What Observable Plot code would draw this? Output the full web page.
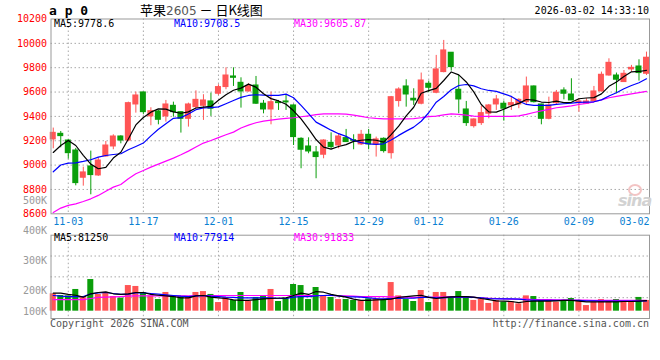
<!DOCTYPE html>
<html><head><meta charset="utf-8">
<script src="https://cdn.jsdelivr.net/npm/d3@7"></script>
<script src="https://cdn.jsdelivr.net/npm/@observablehq/plot@0.6"></script>
<style>
body{margin:0;background:#fff;}
#wrap{position:relative;width:660px;height:360px;overflow:hidden;background:#fff;font-family:"DejaVu Sans Mono",monospace;}
#wrap svg{position:absolute;left:0;top:0;}
.t{position:absolute;white-space:nowrap;font-size:10px;line-height:12px;font-family:"DejaVu Sans Mono",monospace;}
</style></head><body><div id="wrap">
<div class="t" style="left:49px;top:3px;font-size:13px;line-height:16px;font-weight:bold;">a p 0</div>
<div class="t" style="left:140px;top:1px;font-size:13px;line-height:18px;font-family:'Noto Sans CJK SC',sans-serif;">苹果<span style="color:#555;font-family:'DejaVu Sans';font-size:12px;">2605</span> － 日K线图</div>
<div class="t" style="right:11px;top:5px;">2026-03-02 14:33:10</div>
<div class="t" style="left:54px;top:18px;color:#000;">MA5:9778.6</div>
<div class="t" style="left:174px;top:18px;color:#0000ff;">MA10:9708.5</div>
<div class="t" style="left:294px;top:18px;color:#ff00ff;">MA30:9605.87</div>
<div class="t" style="left:54px;top:232px;color:#000;">MA5:81250</div>
<div class="t" style="left:174px;top:232px;color:#0000ff;">MA10:77914</div>
<div class="t" style="left:294px;top:232px;color:#ff00ff;">MA30:91833</div>
<div class="t" style="left:50px;top:318px;color:#555;">Copyright 2026 SINA.COM</div>
<div class="t" style="right:11px;top:318px;color:#555;">http://finance.sina.com.cn</div>
<div class="t" style="left:628px;top:184px;width:10px;height:8px;border:2px solid #f3c4c4;border-radius:50%;"></div>
<div class="t" style="left:618px;top:193px;font-size:16px;line-height:16px;font-style:italic;font-weight:bold;font-family:'DejaVu Sans',sans-serif;color:#d2d2d2;letter-spacing:-1px;">sina</div>
</div>
<script>
const dates = ["10-30","10-31",
"11-03","11-04","11-05","11-06","11-07","11-10","11-11","11-12","11-13","11-14",
"11-17","11-18","11-19","11-20","11-21","11-24","11-25","11-26","11-27","11-28",
"12-01","12-02","12-03","12-04","12-05","12-08","12-09","12-10","12-11","12-12",
"12-15","12-16","12-17","12-18","12-19","12-22","12-23","12-24","12-25","12-26",
"12-29","12-30","12-31",
"01-05","01-06","01-07","01-08","01-09","01-12","01-13","01-14","01-15","01-16",
"01-19","01-20","01-21","01-22","01-23","01-26","01-27","01-28","01-29","01-30",
"02-02","02-03","02-04","02-05","02-06","02-09","02-10","02-11","02-12","02-13",
"02-24","02-25","02-26","02-27","03-02"];
const open = [9211,9257,9202,9120,8896,8989,8915,9071,9153,9235,
9202,9498,9597,9400,9441,9400,9487,9435,9380,9476,
9487,9523,9586,9641,9728,9676,9605,9654,9504,9457,
9517,9523,9490,9216,9153,9104,9085,9183,9161,9222,
9205,9170,9249,9170,9216,9098,9526,9646,9545,9504,
9668,9594,9764,9923,9619,9457,9320,9345,9422,9498,
9504,9490,9498,9517,9646,9498,9380,9509,9613,9580,
9509,9504,9523,9605,9736,9736,9682,9786,9810,9750];
const high = [9304,9276,9208,9137,8983,9115,9060,9194,9249,9241,
9517,9600,9597,9471,9449,9531,9517,9440,9509,9610,
9578,9591,9660,9799,9799,9717,9668,9728,9531,9600,
9531,9572,9495,9224,9224,9153,9208,9265,9257,9293,
9249,9285,9293,9230,9224,9564,9635,9701,9627,9756,
9690,9901,10024,9923,9736,9523,9380,9482,9498,9572,
9526,9558,9545,9723,9650,9500,9558,9613,9635,9709,
9545,9545,9646,9764,9873,9756,9777,9819,9865,9928];
const low = [9134,9142,9049,8830,8827,8756,8907,9066,9126,9175,
9192,9427,9416,9323,9331,9353,9394,9263,9312,9463,
9367,9400,9572,9619,9646,9468,9600,9498,9421,9331,
9449,9449,9161,8970,9093,8888,9052,9129,9134,9189,
9126,9161,9126,9066,9099,9049,9476,9476,9490,9495,
9594,9586,9758,9772,9422,9318,9304,9326,9380,9449,
9361,9449,9463,9498,9510,9331,9372,9498,9536,9531,
9435,9498,9517,9600,9730,9586,9680,9764,9690,9736];
const close = [9265,9238,9098,8852,8940,8918,9038,9161,9235,9202,
9509,9572,9435,9443,9372,9498,9435,9380,9498,9536,
9531,9463,9641,9736,9717,9605,9649,9504,9457,9517,
9509,9515,9230,9126,9112,9066,9202,9148,9235,9189,
9200,9249,9170,9211,9115,9558,9621,9580,9531,9695,
9635,9786,9942,9805,9539,9345,9375,9427,9490,9539,
9463,9509,9536,9646,9517,9380,9490,9594,9586,9531,
9523,9523,9605,9742,9840,9701,9750,9799,9756,9882];
const ma5 = [9104,9161,9202,9161,9080,9008,8970,8982,9058,9105,
9215,9330,9391,9435,9462,9460,9437,9426,9437,9469,
9476,9482,9532,9578,9615,9632,9665,9640,9586,9546,
9527,9500,9446,9379,9298,9210,9147,9131,9153,9168,
9195,9204,9209,9204,9189,9250,9320,9405,9475,9590,
9612,9630,9695,9765,9741,9683,9601,9498,9437,9435,
9459,9486,9507,9539,9534,9518,9514,9525,9513,9516,
9545,9551,9554,9585,9647,9682,9728,9766,9769,9778.6];
const ma10 = [8945,9001,9016,9018,9030,9044,9066,9079,9087,9093,
9126,9153,9181,9240,9295,9340,9384,9390,9420,9455,
9470,9472,9478,9504,9531,9556,9572,9578,9574,9572,
9573,9583,9553,9490,9422,9353,9320,9287,9258,9236,
9203,9184,9175,9170,9175,9206,9244,9279,9312,9360,
9430,9517,9564,9619,9654,9662,9651,9627,9613,9605,
9585,9564,9526,9498,9490,9490,9490,9498,9504,9509,
9515,9517,9520,9536,9567,9594,9627,9654,9676,9708.5];
const ma30 = [8610,8647,8669,8682,8701,8723,8751,8786,8819,8841,
8888,8929,8956,8983,9008,9033,9057,9085,9115,9148,
9181,9202,9226,9249,9271,9305,9328,9348,9361,9370,
9378,9383,9389,9397,9405,9414,9420,9421,9421,9419,
9411,9400,9389,9383,9380,9380,9380,9380,9381,9389,
9398,9402,9413,9421,9416,9411,9402,9400,9400,9400,
9400,9400,9405,9416,9432,9446,9457,9471,9479,9487,
9498,9506,9520,9536,9553,9564,9575,9585,9595,9605.87];
// volume, thousands of lots
const vol = [133,120,117,166,112,242,128,143,112,100,
196,189,140,117,89,143,112,112,112,143,
150,128,66,105,82,143,74,105,112,166,
74,100,204,196,89,181,117,105,89,89,
82,82,94,94,82,219,117,89,74,158,
66,143,143,107,150,112,82,89,59,82,
69,74,56,117,112,89,89,69,82,97,
82,43,69,89,82,89,69,74,105,82];
const vma5 = [138,138,128,122,107,133,143,148,133,128,
133,143,143,128,122,117,112,102,102,117,
120,107,102,97,87,82,82,89,94,97,
99,102,120,138,128,150,145,128,117,107,
92,82,82,87,89,92,105,112,117,122,
105,97,105,110,112,112,107,97,89,79,
77,74,66,74,77,77,77,79,82,82,
77,71,71,71,71,71,74,74,77,81];
const vma10 = [120,115,112,112,112,133,140,143,135,128,
130,140,140,135,130,125,120,115,112,117,
120,115,112,107,105,102,102,102,102,102,
99,97,107,112,112,117,120,122,117,112,
110,107,102,97,94,97,97,99,99,105,
107,102,102,107,107,107,105,102,97,94,
94,94,92,87,84,82,82,82,82,82,
82,79,79,77,77,77,77,77,77,78];
const vma30 = [89,89,89,89,89,97,105,107,110,112,
115,117,117,117,117,117,117,117,117,117,
117,120,120,120,120,120,120,120,120,120,
120,120,120,120,120,120,120,120,117,117,
115,112,112,112,112,110,107,107,105,105,
105,107,110,110,107,107,105,102,99,97,
94,92,92,92,89,89,89,87,87,84,
84,84,82,82,82,82,82,82,82,82];
const priceTicks = [8600,8800,9000,9200,9400,9600,9800,10000,10200];
const volTicks = [100,200,300,400,500];
const dateTicks = ["11-03","11-17","12-01","12-15","12-29","01-12","01-26","02-09","03-02"];

const W = 660, H = 360;
const RED = "#ff5555", GREEN = "#0a9e0a", GRID = "#a8a8a8";
const rows = dates.map((d, i) => ({i, d, o: open[i], h: high[i], l: low[i], c: close[i],
  v: vol[i], m5: ma5[i], m10: ma10[i], m30: ma30[i], vm5: vma5[i], vm10: vma10[i], vm30: vma30[i],
  col: close[i] >= open[i] ? RED : GREEN}));
const tickIdx = dateTicks.map(t => dates.indexOf(t));
const gridIdx = tickIdx.slice(0, -1);
const lastIdx = tickIdx[tickIdx.length - 1];
const xDomain = [-0.3, 79.4];
const font = {fontFamily: "DejaVu Sans Mono", fontSize: "10px", background: "transparent"};
const HW = 0.4;

const main = Plot.plot({
  width: W, height: H, marginLeft: 50.5, marginRight: 11, marginTop: 18.5, marginBottom: H - 213.3,
  style: font,
  x: {domain: xDomain, axis: null, label: null},
  y: {domain: [8600, 10200], axis: null, label: null},
  color: {type: "identity"},
  marks: [
    Plot.ruleY(priceTicks.slice(1, -1), {stroke: GRID, strokeDasharray: "1.5,2.5"}),
    Plot.ruleX(gridIdx, {x: d => d, stroke: GRID, strokeDasharray: "1.5,2.5"}),
    Plot.ruleX(rows, {x: "i", y1: "l", y2: "h", stroke: "col"}),
    Plot.rect(rows, {x1: d => d.i - HW, x2: d => d.i + HW, y1: d => Math.min(d.o, d.c), y2: d => Math.max(d.o, d.c),
      fill: "col", insetTop: -0.5, insetBottom: -0.5}),
    Plot.line(rows, {x: "i", y: "m30", stroke: "#ff00ff", strokeWidth: 1.2}),
    Plot.line(rows, {x: "i", y: "m10", stroke: "#0000ff", strokeWidth: 1.2}),
    Plot.line(rows, {x: "i", y: "m5", stroke: "#000000", strokeWidth: 1.2}),
    Plot.axisY(priceTicks, {anchor: "left", label: null, tickSize: 0, tickPadding: 4, tickFormat: d => String(d), fill: "#ff0000"}),
    Plot.axisX(gridIdx, {anchor: "bottom", label: null, tickSize: 0, tickPadding: 4, tickFormat: i => dates[i], fill: "#0a80d2"}),
    Plot.text([lastIdx], {x: d => d, frameAnchor: "bottom", lineAnchor: "top", dy: 4, dx: 3, textAnchor: "end",
      text: i => dates[i], fill: "#0a80d2"}),
    Plot.frame({stroke: "#999"})
  ]
});

const vDomain = [-56, 581];
const vGrid = [1, 2, 3].map(k => vDomain[0] + (vDomain[1] - vDomain[0]) * k / 4);
const volume = Plot.plot({
  width: W, height: H, marginLeft: 50.5, marginRight: 11, marginTop: 234.7, marginBottom: H - 318,
  style: font,
  x: {domain: xDomain, axis: null, label: null},
  y: {domain: vDomain, axis: null, label: null},
  color: {type: "identity"},
  marks: [
    Plot.ruleY(vGrid, {stroke: GRID, strokeDasharray: "1.5,2.5"}),
    Plot.ruleX(gridIdx, {x: d => d, stroke: GRID, strokeDasharray: "1.5,2.5"}),
    Plot.rect(rows, {x1: d => d.i - HW, x2: d => d.i + HW, y1: 0, y2: "v", fill: "col"}),
    Plot.line(rows, {x: "i", y: "vm30", stroke: "#ff00ff", strokeWidth: 1.2}),
    Plot.line(rows, {x: "i", y: "vm10", stroke: "#0000ff", strokeWidth: 1.2}),
    Plot.line(rows, {x: "i", y: "vm5", stroke: "#000000", strokeWidth: 1.2}),
    Plot.frame({stroke: "#999"})
  ]
});

// Sina's volume labels: 30px per 100K, clamped at the panel bottom
const volLabels = Plot.plot({
  width: W, height: H, marginLeft: 50.5, marginRight: 11, marginTop: 200.7, marginBottom: H - 311,
  style: font,
  y: {domain: [132.3, 500], clamp: true, axis: null, label: null},
  marks: [
    Plot.axisY(volTicks, {anchor: "left", label: null, tickSize: 0, tickPadding: 4, tickFormat: d => d + "K", fill: "#999"})
  ]
});

const wrap = document.getElementById("wrap");
wrap.prepend(volLabels);
wrap.prepend(volume);
wrap.prepend(main);
</script>
</body></html>
